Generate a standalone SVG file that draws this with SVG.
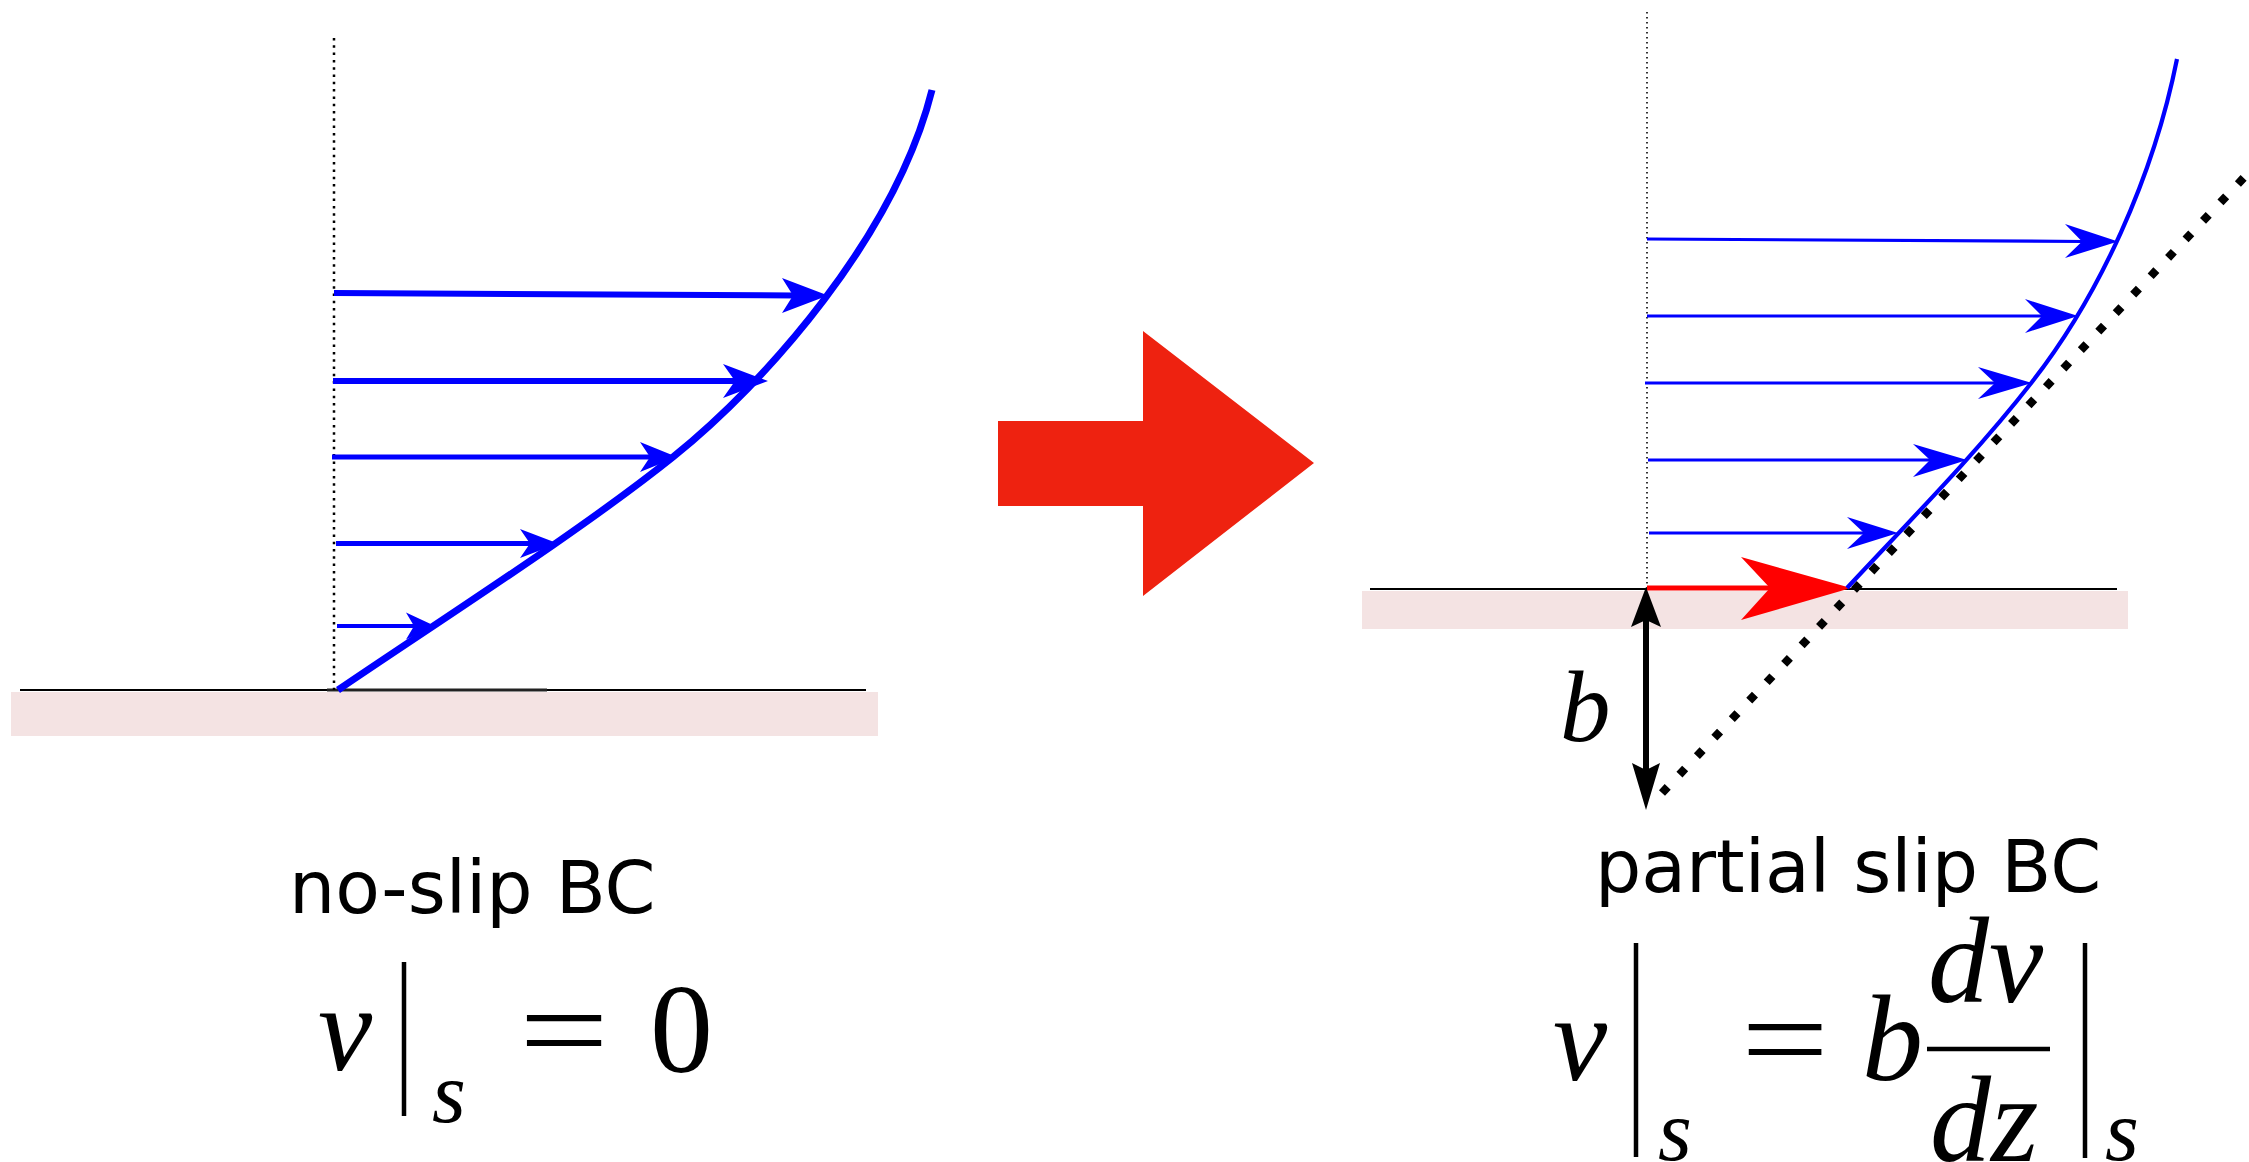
<svg xmlns="http://www.w3.org/2000/svg" width="2249" height="1162" viewBox="0 0 2249 1162">
<style>
.wall{fill:#f4e3e3}
.ground{stroke:#000;stroke-width:2;fill:none}
.axis{stroke:#000;fill:none}
.blue{stroke:#0000ff;fill:none}
.bhead{fill:#0000ff}
.label{font-family:"DejaVu Sans","Liberation Sans",sans-serif;font-size:73px;fill:#000}
.math{font-family:"Liberation Serif","Times New Roman",serif;font-style:italic;fill:#000}
.mrm{font-family:"Liberation Serif","Times New Roman",serif;fill:#000}
.bar{stroke:#000;stroke-width:4.5}
</style>
<rect width="2249" height="1162" fill="#fff"/>

<g id="left-panel">
  <rect class="wall" x="11" y="692" width="867" height="44"/>
  <line class="ground" x1="20" y1="690" x2="866" y2="690"/>
  <line x1="327" y1="690" x2="547" y2="690" stroke="#222" stroke-width="3"/>
  <line class="axis" x1="334" y1="38" x2="334" y2="690" stroke-width="2.5" stroke-dasharray="2.5 4.8"/>
  <g id="left-velocity-arrows">
    <line class="blue" x1="334" y1="293" x2="794" y2="295.5" stroke-width="6"/>
    <polygon class="bhead" points="828,295.5 782,278 793,295.5 782,313"/>
    <line class="blue" x1="333" y1="381" x2="736" y2="381" stroke-width="6"/>
    <polygon class="bhead" points="768,381 723,364 735,381 723,398"/>
    <line class="blue" x1="332" y1="457" x2="651" y2="457" stroke-width="5"/>
    <polygon class="bhead" points="677,457 640,442 650,457 640,472"/>
    <line class="blue" x1="336" y1="543.5" x2="531" y2="543.5" stroke-width="5"/>
    <polygon class="bhead" points="558,543.5 520,529 530,543.5 520,558"/>
    <line class="blue" x1="337" y1="626" x2="415" y2="626" stroke-width="4"/>
    <polygon class="bhead" points="435,626 406,612.5 414,626 406,639.5"/>
  </g>
  <path id="left-profile" class="blue" stroke-width="7" d="M338,690 C437.2,622.4 579.4,532 673,457 C766.6,382 895.5,235.5 932,90"/>
  <text id="left-label" class="label" x="289" y="913">no-slip BC</text>
  <g id="left-formula">
    <text class="math" x="318" y="1070" font-size="122">v</text>
    <line class="bar" x1="404" y1="962" x2="404" y2="1116"/>
    <text class="math" x="432" y="1122" font-size="87">s</text>
    <text class="mrm" x="519" y="1071" font-size="122" textLength="90" lengthAdjust="spacingAndGlyphs">=</text>
    <text class="mrm" x="650" y="1072" font-size="126">0</text>
  </g>
</g>

<g id="transition-arrow">
  <polygon points="998,421 1143,421 1143,331 1314,463 1143,596 1143,506 998,506" fill="#ee2210"/>
</g>

<g id="right-panel">
  <rect class="wall" x="1362" y="591" width="766" height="38"/>
  <line class="ground" x1="1370" y1="589" x2="2117" y2="589"/>
  <line class="axis" x1="1647" y1="12" x2="1647" y2="588" stroke-width="1.6" stroke-dasharray="1.6 3.4"/>
  <line id="tangent-extrapolation" x1="1662" y1="793" x2="2262" y2="158.5" stroke="#000" stroke-width="8.3" stroke-dasharray="8.3 17.1"/>
  <g id="right-velocity-arrows">
    <line class="blue" x1="1647" y1="239" x2="2083" y2="241.5" stroke-width="3.2"/>
    <polygon class="bhead" points="2118,241.5 2065,224 2082,241.5 2065,258"/>
    <line class="blue" x1="1647" y1="316" x2="2043" y2="316" stroke-width="3.2"/>
    <polygon class="bhead" points="2078,316 2025,299 2042,316 2025,333"/>
    <line class="blue" x1="1645" y1="383" x2="1996" y2="383" stroke-width="3.2"/>
    <polygon class="bhead" points="2032,383 1978,367 1995,383 1978,399"/>
    <line class="blue" x1="1648" y1="460" x2="1931" y2="460" stroke-width="3.2"/>
    <polygon class="bhead" points="1967,460 1913,444 1930,460 1913,477"/>
    <line class="blue" x1="1649" y1="533" x2="1865" y2="533" stroke-width="3.2"/>
    <polygon class="bhead" points="1898,533 1847,517 1864,533 1847,549"/>
  </g>
  <g id="slip-velocity-arrow">
    <line x1="1647" y1="588" x2="1771" y2="588" stroke="#ff0000" stroke-width="5"/>
    <polygon points="1851,588 1741,557 1770,588 1741,620" fill="#ff0000"/>
  </g>
  <path id="right-profile" class="blue" stroke-width="4.2" d="M1847,588 C1909.7,520.7 1975.4,454.6 2032,382 C2099.7,295.2 2153.5,176.7 2177,59"/>
  <g id="slip-length-arrow">
    <line x1="1646" y1="618" x2="1646" y2="772" stroke="#000" stroke-width="6"/>
    <polygon points="1646,587 1661,627 1646,620 1631,627" fill="#000"/>
    <polygon points="1646,810 1660,763 1646,770 1632,763" fill="#000"/>
  </g>
  <text id="slip-length-label" class="math" x="1560" y="741" font-size="101">b</text>
  <text id="right-label" class="label" x="1595" y="892">partial slip BC</text>
  <g id="right-formula">
    <text class="math" x="1553" y="1080" font-size="122">v</text>
    <line class="bar" x1="1636" y1="943" x2="1636" y2="1157"/>
    <text class="math" x="1658" y="1160" font-size="87">s</text>
    <text class="mrm" x="1741" y="1080" font-size="122" textLength="88" lengthAdjust="spacingAndGlyphs">=</text>
    <text class="math" x="1862" y="1080" font-size="122">b</text>
    <text class="math" x="1928" y="1002" font-size="122">dv</text>
    <line class="bar" x1="1927" y1="1049" x2="2050" y2="1049"/>
    <text class="math" x="1930" y="1161" font-size="122">dz</text>
    <line class="bar" x1="2085" y1="943" x2="2085" y2="1158"/>
    <text class="math" x="2105" y="1160" font-size="87">s</text>
  </g>
</g>
</svg>
